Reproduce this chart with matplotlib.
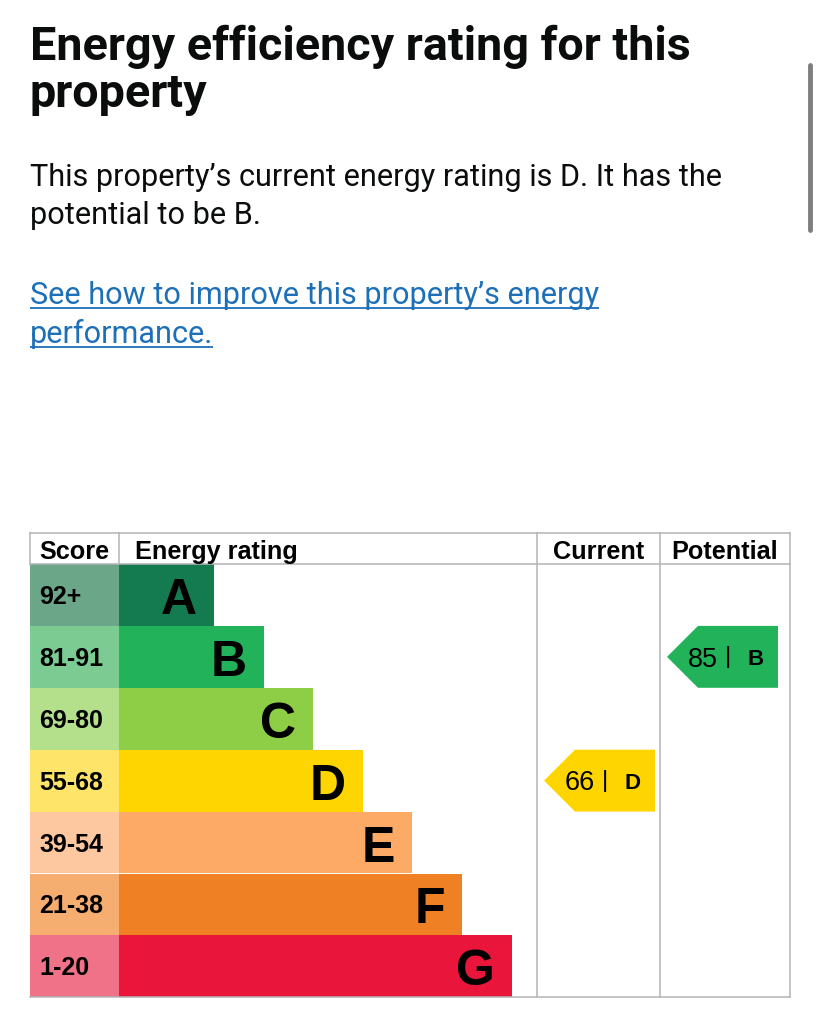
import matplotlib.pyplot as plt
from matplotlib.patches import Polygon

# ---- data ----
bands = ['A', 'B', 'C', 'D', 'E', 'F', 'G']
score_ranges = ['92+', '81-91', '69-80', '55-68', '39-54', '21-38', '1-20']
band_min = [92, 81, 69, 55, 39, 21, 1]
bar_colors = ['#137b4f', '#22b35a', '#8dce46', '#ffd500', '#fcaa65', '#ef8023', '#e9153b']
cell_colors = ['#6ba689', '#7bcb93', '#b4e08c', '#ffe46a', '#fdc7a0', '#f6ad70', '#f07289']
current_score = 66
potential_score = 85
headers = ['Score', 'Energy rating', 'Current', 'Potential']

title_lines = ['Energy efficiency rating for this', 'property']
body_lines = ['This property\u2019s current energy rating is D. It has the', 'potential to be B.']
link_lines = ['See how to improve this property\u2019s energy', 'performance.']

DPI = 100
fig = plt.figure(figsize=(8.19, 10.24), dpi=DPI)
ax = fig.add_axes([0, 0, 1, 1])
ax.set_xlim(0, 819)
ax.set_ylim(1024, 0)
ax.axis('off')
renderer = fig.canvas.get_renderer()


def cap(size, ratio=0.72):
    # cap height in pixels for a font size in points
    return ratio * size * DPI / 72


def fit(t, width):
    w = t.get_window_extent(renderer).width
    t.set_fontsize(t.get_fontsize() * width / w)


# ---- heading text ----
for line, base in zip(title_lines, [60, 107]):
    t = ax.text(30, base, line, fontsize=33, fontweight='bold', family='Roboto',
                va='baseline', color='#0b0c0c')
    if line == title_lines[0]:
        fit(t, 662)
        tsize = t.get_fontsize()
    else:
        t.set_fontsize(tsize)

for line, base in zip(body_lines, [186, 224]):
    t = ax.text(30, base, line, fontsize=22, family='Roboto', va='baseline', color='#0b0c0c')
    if line == body_lines[0]:
        fit(t, 692)
        bsize = t.get_fontsize()
    else:
        t.set_fontsize(bsize)

for line, base in zip(link_lines, [304, 343]):
    t = ax.text(30, base, line, fontsize=bsize, family='Roboto', va='baseline', color='#1d70b8')
    bb = t.get_window_extent(renderer).transformed(ax.transData.inverted())
    ax.plot([bb.x0, bb.x1], [base + 4, base + 4], color='#1d70b8', lw=1.3, solid_capstyle='butt')

# scrollbar
ax.plot([810, 810], [65, 230], color='#7f7f7f', lw=3.5, solid_capstyle='round')

# ---- table ----
left, right = 30, 790
col_score, col_cur, col_pot = 119, 537, 660
top, head_bot = 533, 564
row_h = 61.9
n = len(bands)
bottom = head_bot + n * row_h
grid = '#b1b4b6'
lw = 1.1

centers = [head_bot + row_h * (i + 0.5) for i in range(n)]
bar_len = [95 + 49.6 * i for i in range(n)]

ax.barh(centers, [col_score - left] * n, left=left, height=row_h, color=cell_colors, lw=0)
ax.barh(centers, bar_len, left=col_score, height=row_h, color=bar_colors, lw=0)

# grid lines
ax.plot([left, right], [top, top], color=grid, lw=lw)
ax.plot([left, right], [head_bot, head_bot], color=grid, lw=lw)
ax.plot([left, right], [bottom, bottom], color=grid, lw=lw)
ax.plot([left, left], [top, head_bot], color=grid, lw=lw)
ax.plot([col_score, col_score], [top, head_bot], color=grid, lw=lw)
for x in (col_cur, col_pot, right):
    ax.plot([x, x], [top, bottom], color=grid, lw=lw)

hsize = 18.2
hc = (top + head_bot) / 2 + 1
hb = hc + cap(hsize) / 2
ax.text(39, hb, headers[0], fontsize=hsize, fontweight='bold', family='Liberation Sans', va='baseline')
ax.text(135, hb, headers[1], fontsize=hsize, fontweight='bold', family='Liberation Sans', va='baseline')
ax.text((col_cur + col_pot) / 2, hb, headers[2], fontsize=hsize, fontweight='bold',
        family='Liberation Sans', va='baseline', ha='center')
ax.text((col_pot + right) / 2, hb, headers[3], fontsize=hsize, fontweight='bold',
        family='Liberation Sans', va='baseline', ha='center')

ssize = 18
lsize = 36
for i in range(n):
    cy = centers[i]
    ax.text(39, cy + cap(ssize) / 2, score_ranges[i], fontsize=ssize, fontweight='bold',
            family='Liberation Sans', va='baseline')
    ax.text(col_score + bar_len[i] - 17, cy + cap(lsize) / 2 + 1, bands[i], fontsize=lsize,
            fontweight='bold', family='Liberation Sans', va='baseline', ha='right')


def band_of(score):
    for i, m in enumerate(band_min):
        if score >= m:
            return i
    return n - 1


def pointer(score, col_left):
    i = band_of(score)
    cy = centers[i]
    y0, y1 = cy - row_h / 2, cy + row_h / 2
    tip = col_left + 7
    pts = [(tip, cy), (tip + 31, y0), (tip + 111, y0), (tip + 111, y1), (tip + 31, y1)]
    ax.add_patch(Polygon(pts, closed=True, color=bar_colors[i], lw=0))
    nsize = 19.5
    ax.text(tip + 21, cy + cap(nsize) / 2, str(score), fontsize=nsize, family='Liberation Sans',
            va='baseline')
    psize = 17.5
    ax.text(tip + 61, cy + 0.26 * psize * DPI / 72, '|', fontsize=psize, family='Liberation Sans',
            va='baseline', ha='center')
    ax.text(tip + 89, cy + cap(16) / 2, bands[i], fontsize=16, fontweight='bold',
            family='Liberation Sans', va='baseline', ha='center')


pointer(current_score, col_cur)
pointer(potential_score, col_pot)

fig.savefig('out.png', dpi=DPI)
